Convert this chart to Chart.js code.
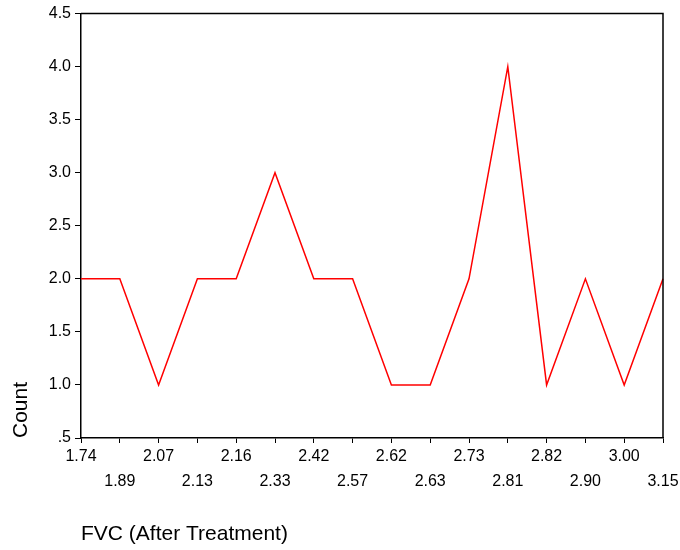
<!DOCTYPE html>
<html>
<head>
<meta charset="utf-8">
<script src="https://cdn.jsdelivr.net/npm/chart.js@4"></script>
<style>
  html, body { margin: 0; padding: 0; background: #fff; }
</style>
</head>
<body>
<canvas id="fvcChart" width="680" height="550"></canvas>
<script>
const fvcValues = ["1.74", "1.89", "2.07", "2.13", "2.16", "2.33", "2.42", "2.57",
  "2.62", "2.63", "2.73", "2.81", "2.82", "2.90", "3.00", "3.15"];
const counts = [2, 2, 1, 2, 2, 3, 2, 2, 1, 1, 2, 4, 1, 2, 1, 2];
const countTicks = [0.5, 1.0, 1.5, 2.0, 2.5, 3.0, 3.5, 4.0, 4.5];

const fontFamily = "'Liberation Sans', Arial, sans-serif";

// closes the plot frame on the top and right
const frameBox = {
  id: "frameBox",
  afterDraw(chart) {
    const { ctx, chartArea: a } = chart;
    ctx.save();
    ctx.strokeStyle = "#000";
    ctx.lineWidth = 1.5;
    ctx.beginPath();
    ctx.moveTo(a.left, a.top);
    ctx.lineTo(a.right, a.top);
    ctx.lineTo(a.right, a.bottom);
    ctx.stroke();
    ctx.restore();
  },
};

const ctx = document.querySelector("#fvcChart");

let chart = new Chart(ctx, {
  type: "line",
  data: {
    labels: fvcValues,
    datasets: [
      {
        label: "Count",
        data: counts,
        borderColor: "#ff0000",
        borderWidth: 1.5,
        pointRadius: 0,
        tension: 0,
        fill: false,
      },
    ],
  },
  options: {
    responsive: false,
    animation: false,
    layout: { padding: { top: 13, right: 17, left: 0, bottom: 0 } },
    plugins: {
      legend: { display: false },
      tooltip: { enabled: false },
    },
    scales: {
      x: {
        type: "category",
        offset: false,
        afterFit: (scale) => { scale.height = 112; },
        border: { display: true, color: "#000", width: 1.5 },
        grid: { drawOnChartArea: false, drawTicks: true, tickLength: 5, color: "#000" },
        ticks: {
          autoSkip: false,
          maxRotation: 0,
          minRotation: 0,
          padding: 1,
          color: "#000",
          font: { family: fontFamily, size: 16, lineHeight: 1.5625 },
          // every other label drops to a second row
          callback: (value, index) => (index % 2 === 0 ? [fvcValues[index]] : ["", fvcValues[index]]),
        },
        title: {
          display: true,
          text: "FVC (After Treatment)",
          align: "start",
          color: "#000",
          font: { family: fontFamily, size: 21 },
          padding: { top: 0, bottom: 3 },
        },
      },
      y: {
        min: countTicks[0],
        max: countTicks[countTicks.length - 1],
        afterFit: (scale) => { scale.width = 81; },
        afterBuildTicks: (scale) => { scale.ticks = countTicks.map((v) => ({ value: v })); },
        border: { display: true, color: "#000", width: 1.5 },
        grid: { drawOnChartArea: false, drawTicks: true, tickLength: 6, color: "#000" },
        ticks: {
          padding: 4,
          color: "#000",
          font: { family: fontFamily, size: 16 },
          callback: (value) => (value === 0.5 ? ".5" : value.toFixed(1)),
        },
        title: {
          display: true,
          text: "Count",
          align: "start",
          color: "#000",
          font: { family: fontFamily, size: 21 },
          padding: { top: 9, bottom: 0 },
        },
      },
    },
  },
  plugins: [frameBox],
});
</script>
</body>
</html>
